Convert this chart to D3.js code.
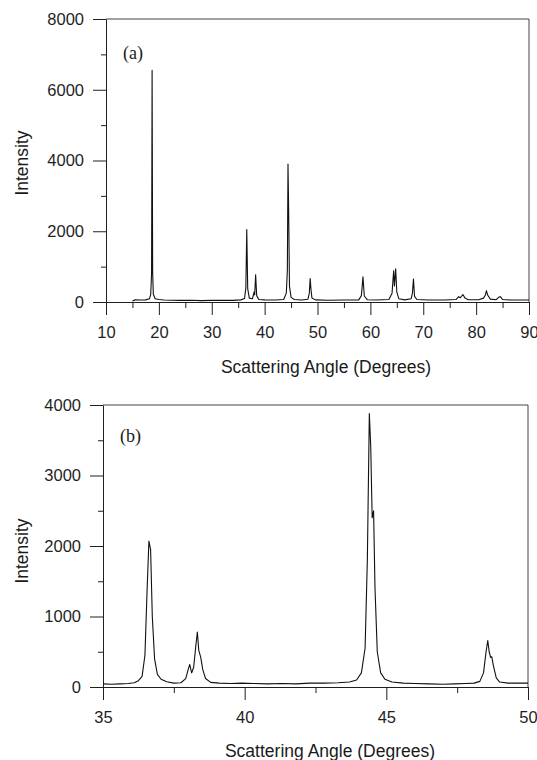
<!DOCTYPE html>
<html>
<head>
<meta charset="utf-8">
<script src="https://cdn.jsdelivr.net/npm/d3@7/dist/d3.min.js"></script>
<style>
  body { margin: 0; background: #fff; }
  svg text { font-family: "Liberation Sans", Arial, Helvetica, sans-serif; fill: #1a1a1a; }
</style>
</head>
<body>
<svg width="537" height="760"></svg>
<script>
// (a) full scan, [angle, intensity]
const profileA = [
  [15.0, 30], [15.5, 60], [16.5, 55], [17.5, 60], [18.2, 90], [18.45, 200], [18.62, 800],
  [18.72, 6550], [18.82, 850], [18.95, 220], [19.3, 90], [20, 70], [21, 55], [22.5, 50],
  [24, 45], [26, 50], [28, 40], [30, 45], [32, 50], [34, 45], [35.5, 60], [36.2, 100],
  [36.45, 400], [36.62, 2050], [36.8, 380], [37.1, 110], [37.7, 90], [38.0, 280],
  [38.12, 200], [38.3, 770], [38.5, 180], [38.9, 70], [40, 60], [42, 55], [43.6, 70],
  [44.1, 250], [44.3, 900], [44.42, 3900], [44.55, 2500], [44.7, 450], [45.0, 130],
  [45.6, 70], [47, 55], [48.2, 80], [48.45, 250], [48.62, 660], [48.75, 380], [48.95, 110],
  [49.6, 60], [52, 50], [55, 55], [57.8, 60], [58.3, 180], [58.6, 710], [58.85, 170],
  [59.4, 65], [61, 55], [63.5, 70], [64.1, 250], [64.4, 880], [64.55, 450], [64.78, 940],
  [65.0, 280], [65.4, 90], [66.5, 60], [67.7, 90], [67.95, 250], [68.15, 650], [68.35, 160],
  [68.8, 70], [71, 55], [74, 55], [76.2, 70], [76.7, 150], [77.0, 120], [77.5, 210],
  [77.9, 110], [78.5, 65], [80.5, 65], [81.4, 110], [81.75, 200], [81.95, 320], [82.2, 190],
  [82.7, 80], [83.8, 65], [84.3, 140], [84.6, 150], [85.0, 70], [86.5, 55], [90, 55]
];

// (b) zoom on 35-50 degrees
const profileB = [
  [35.0, 45], [35.3, 40], [35.6, 45], [35.9, 50], [36.1, 60], [36.25, 90], [36.38, 150],
  [36.48, 450], [36.55, 1300], [36.62, 2070], [36.68, 1950], [36.74, 1000], [36.82, 400],
  [36.92, 180], [37.05, 110], [37.25, 75], [37.5, 55], [37.75, 60], [37.92, 120], [38.0, 240],
  [38.06, 320], [38.13, 200], [38.2, 280], [38.28, 600], [38.33, 780], [38.38, 520],
  [38.45, 420], [38.52, 250], [38.62, 120], [38.8, 65], [39.1, 55], [39.5, 50], [39.9, 55],
  [40.3, 50], [40.8, 45], [41.3, 50], [41.8, 45], [42.3, 55], [42.8, 55], [43.3, 60],
  [43.7, 70], [43.95, 100], [44.12, 200], [44.25, 550], [44.33, 1800], [44.4, 3880],
  [44.45, 3400], [44.5, 2400], [44.55, 2500], [44.6, 1400], [44.68, 500], [44.8, 200],
  [44.95, 110], [45.2, 70], [45.6, 55], [46.0, 50], [46.5, 45], [47.0, 40], [47.4, 45],
  [47.8, 50], [48.1, 55], [48.3, 80], [48.43, 200], [48.52, 500], [48.58, 660], [48.63, 500],
  [48.68, 420], [48.72, 430], [48.78, 300], [48.88, 130], [49.0, 70], [49.3, 55], [49.7, 55],
  [50.0, 55]
];

const xTicksA = [10, 20, 30, 40, 50, 60, 70, 80, 90];
const xMinorA = [15, 25, 35, 45, 55, 65, 75, 85];
const yTicksA = [0, 2000, 4000, 6000, 8000];
const yMinorA = [1000, 3000, 5000, 7000];

const xTicksB = [35, 40, 45, 50];
const xMinorB = [37.5, 42.5, 47.5];
const yTicksB = [0, 1000, 2000, 3000, 4000];
const yMinorB = [500, 1500, 2500, 3500];

const svg = d3.select('svg');
const ink = '#1f1f1f';

function styleAxis(g) {
  g.selectAll('path, line').style('stroke', ink).style('stroke-width', 1);
  g.selectAll('text').style('font-size', '16.5px').style('fill', ink);
}

function panel(svg, {data, xDomain, yDomain, xRange, yRange, xTicks, xMinor, yTicks, yMinor, tag, tagPos, yTitleY, xTitleX, xTitleY}) {
  const x = d3.scaleLinear().domain(xDomain).range(xRange);
  const y = d3.scaleLinear().domain(yDomain).range(yRange);
  const g = svg.append('g');

  // top and right frame
  g.append('path')
    .attr('d', `M${x(xDomain[0])},${y(yDomain[1])}H${x(xDomain[1])}V${y(yDomain[0])}`)
    .style('fill', 'none')
    .style('stroke', '#444')
    .style('stroke-width', 1);

  g.append('g')
    .attr('transform', `translate(0,${y(yDomain[0])})`)
    .call(d3.axisBottom(x).tickValues(xTicks).tickFormat(d3.format('d')).tickSizeInner(13).tickSizeOuter(0).tickPadding(11))
    .call(styleAxis);
  g.append('g')
    .attr('transform', `translate(0,${y(yDomain[0])})`)
    .call(d3.axisBottom(x).tickValues(xMinor).tickFormat('').tickSize(6))
    .call(a => a.select('.domain').remove())
    .call(styleAxis);

  g.append('g')
    .attr('transform', `translate(${x(xDomain[0])},0)`)
    .call(d3.axisLeft(y).tickValues(yTicks).tickFormat(d3.format('d')).tickSizeInner(13).tickSizeOuter(0).tickPadding(9))
    .call(styleAxis);
  g.append('g')
    .attr('transform', `translate(${x(xDomain[0])},0)`)
    .call(d3.axisLeft(y).tickValues(yMinor).tickFormat('').tickSize(5))
    .call(a => a.select('.domain').remove())
    .call(styleAxis);

  g.append('path')
    .datum(data)
    .attr('d', d3.line().x(d => x(d[0])).y(d => y(d[1])))
    .style('fill', 'none')
    .style('stroke', '#111')
    .style('stroke-width', 1.1)
    .style('stroke-linejoin', 'round');

  g.append('text')
    .attr('x', tagPos[0])
    .attr('y', tagPos[1])
    .style('font-family', '"Liberation Serif", "DejaVu Serif", serif')
    .style('font-size', '18px')
    .text(tag);

  g.append('text')
    .attr('transform', `translate(28,${yTitleY}) rotate(-90)`)
    .attr('text-anchor', 'middle')
    .style('font-size', '17.5px')
    .text('Intensity');

  g.append('text')
    .attr('x', xTitleX)
    .attr('y', xTitleY)
    .attr('text-anchor', 'middle')
    .style('font-size', '17.5px')
    .text('Scattering Angle (Degrees)');
}

panel(svg, {
  data: profileA, xDomain: [10, 90], yDomain: [0, 8000],
  xRange: [106, 529], yRange: [302, 19],
  xTicks: xTicksA, xMinor: xMinorA, yTicks: yTicksA, yMinor: yMinorA,
  tag: '(a)', tagPos: [123, 59], yTitleY: 163, xTitleX: 326, xTitleY: 373
});

panel(svg, {
  data: profileB, xDomain: [35, 50], yDomain: [0, 4000],
  xRange: [103, 528], yRange: [687, 405],
  xTicks: xTicksB, xMinor: xMinorB, yTicks: yTicksB, yMinor: yMinorB,
  tag: '(b)', tagPos: [120, 442], yTitleY: 551, xTitleX: 330, xTitleY: 757
});
</script>
</body>
</html>
